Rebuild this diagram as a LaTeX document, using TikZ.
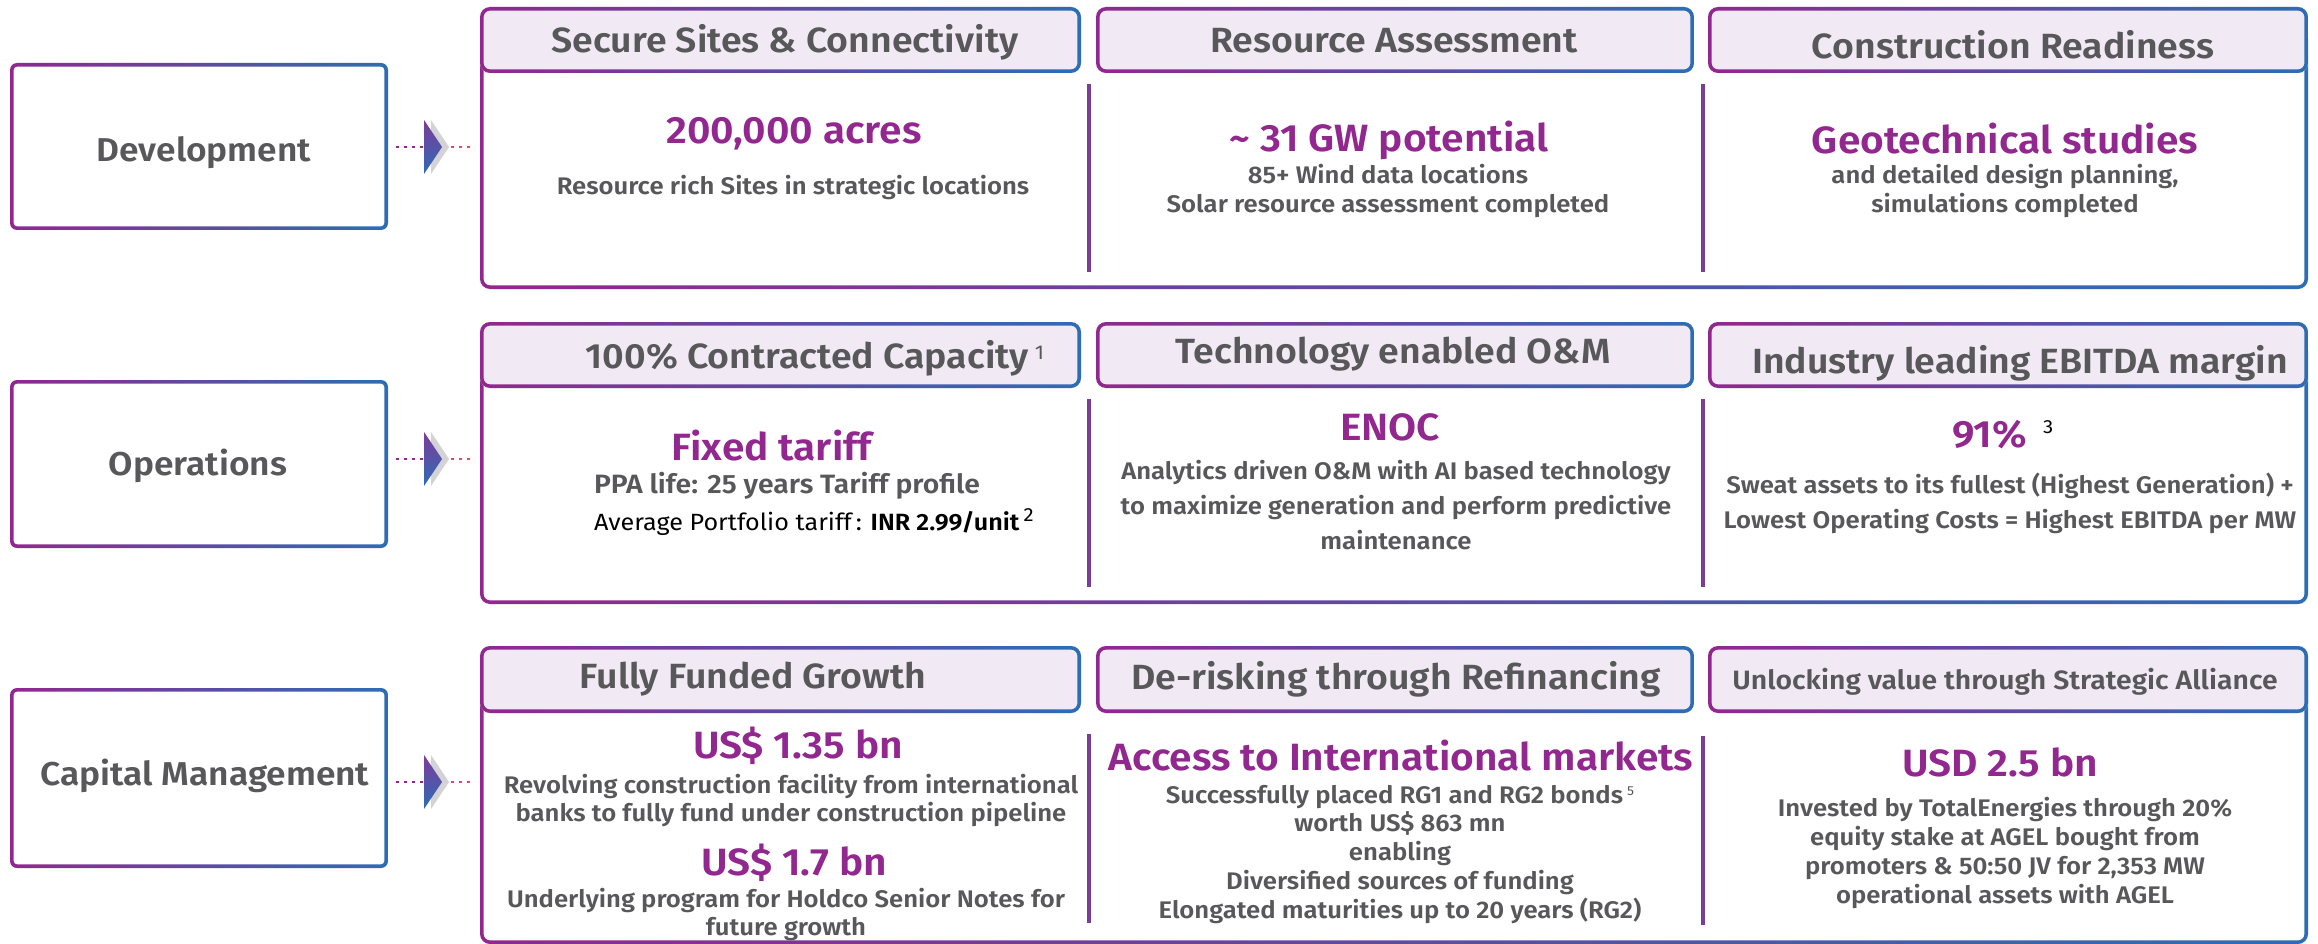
\documentclass[tikz,border=0pt]{standalone}
\usepackage{fontspec}
\setmainfont{Fira Sans}[BoldFont={Fira Sans SemiBold}, FakeStretch=1.07]
\definecolor{purp}{HTML}{92278F}
\definecolor{blu}{HTML}{2D6DB4}
\definecolor{txt}{HTML}{58585A}
\definecolor{hfill}{HTML}{F1EAF5}
\definecolor{dotr}{HTML}{E5485E}
\definecolor{divc}{HTML}{7A3E98}
\definecolor{gry}{HTML}{D3D3D6}
\definecolor{tritop}{HTML}{7E3A9C}
\newcommand\gframe[6]{\shade[left color=purp,right color=blu,even odd rule] (#1,#2) [rounded corners=#5] rectangle (#3,#4) ({#1+3.6},{#2+3.6}) [rounded corners=#6] rectangle ({#3-3.6},{#4-3.6});}
\newcommand\gbox[7]{\fill[#7,rounded corners=#5] (#1,#2) rectangle (#3,#4); \gframe{#1}{#2}{#3}{#4}{#5}{#6}}
\newcommand\flowmark[3]{%
  \coordinate (ta#3) at (423,#2);
  \coordinate (tb#3) at (451,#2);
  \coordinate (ct#3) at (482,#2);
  \draw[dots,purp,shorten <=8pt] (#1.east |- ta#3) -- (ta#3);
  \fill[gry] (431,#2-27) -- (449,#2) -- (431,#2+27) -- cycle;
  \shade[top color=tritop,bottom color=blu] (424,#2-27) -- (442,#2) -- (424,#2+27) -- cycle;
  \draw[dots,dotr,shorten >=8pt] (tb#3) -- (ct#3);
}
\tikzset{
  every node/.style={inner sep=0pt, outer sep=0pt},
  lbl/.style={anchor=base, text=txt, font=\fontsize{33}{40}\selectfont\bfseries},
  hdr/.style={anchor=base, text=txt, font=\fontsize{35}{40}\selectfont\bfseries},
  hdrs/.style={anchor=base, text=txt, font=\fontsize{26.5}{30}\selectfont\bfseries},
  big/.style={anchor=base, text=purp, font=\fontsize{38}{44}\selectfont\bfseries},
  body/.style={anchor=base, text=txt, align=center, font=\fontsize{24}{28.7}\selectfont\bfseries},
  bodyw/.style={anchor=base, text=txt, align=center, font=\fontsize{24}{35}\selectfont\bfseries},
  dots/.style={line width=2.6pt, dash pattern=on 2.6pt off 5.4pt},
  boxnode/.style={minimum width=378pt, inner sep=0pt},
}
\begin{document}
\begin{tikzpicture}[x=1pt,y=-1pt]
\useasboundingbox (0,0) rectangle (2318,944);
\fill[white] (0,0) rectangle (2318,944);

% left boxes
\gbox{10}{63}{388}{230}{7pt}{3.4pt}{white}
\gbox{10}{380}{388}{548}{7pt}{3.4pt}{white}
\gbox{10}{688}{388}{868}{7pt}{3.4pt}{white}
\node[boxnode, minimum height=167pt] (devbox) at (199,146.5) {};
\node[boxnode, minimum height=168pt] (opsbox) at (199,464) {};
\node[boxnode, minimum height=180pt] (capbox) at (199,778) {};
\node[lbl] (devlbl) at (204,162) {Development};
\node[lbl] (opslbl) at (198,475) {Operations};
\node[lbl] (caplbl) at (205,785) {Capital Management};

% flow marks
\flowmark{devbox}{147}{1}
\flowmark{opsbox}{459}{2}
\flowmark{capbox}{782}{3}

% containers
\begin{scope}\clip (470,40) rectangle (2318,300); \gframe{480}{0}{2308}{289}{10pt}{6.4pt} \end{scope}
\begin{scope}\clip (470,350) rectangle (2318,620); \gframe{480}{300}{2308}{604}{10pt}{6.4pt} \end{scope}
\begin{scope}\clip (470,680) rectangle (2318,944); \gframe{480}{620}{2308}{944}{10pt}{6.4pt} \end{scope}

% headers
\gbox{480}{7}{1081}{73}{10pt}{6.4pt}{hfill}
\gbox{1096}{7}{1694}{73}{10pt}{6.4pt}{hfill}
\gbox{1708}{7}{2308}{73}{10pt}{6.4pt}{hfill}
\gbox{480}{322}{1081}{388}{10pt}{6.4pt}{hfill}
\gbox{1096}{322}{1694}{388}{10pt}{6.4pt}{hfill}
\gbox{1708}{322}{2308}{388}{10pt}{6.4pt}{hfill}
\gbox{480}{646}{1081}{713}{10pt}{6.4pt}{hfill}
\gbox{1096}{646}{1694}{713}{10pt}{6.4pt}{hfill}
\gbox{1708}{646}{2308}{713}{10pt}{6.4pt}{hfill}

% dividers
\fill[divc] (1086.5,84) rectangle (1090.5,272);
\fill[divc] (1700.5,84) rectangle (1704.5,272);
\fill[divc] (1086.5,399) rectangle (1090.5,587);
\fill[divc] (1700.5,399) rectangle (1704.5,587);
\fill[divc] (1086.5,734) rectangle (1090.5,923);
\fill[divc] (1700.5,736) rectangle (1704.5,925);

% header titles
\node[hdr] (t11) at (785,53) {Secure Sites \& Connectivity};
\node[hdr] (t12) at (1394,53) {Resource Assessment};
\node[hdr] (t13) at (2013,59) {Construction Readiness};
\node[hdr] (t21) at (815,368) {100\% Contracted Capacity\,\raisebox{9pt}{\mdseries\fontsize{20}{20}\selectfont 1}};
\node[hdr] (t22) at (1393,363) {Technology enabled O\&M};
\node[hdr] (t23) at (2020,373) {Industry leading EBITDA margin};
\node[hdr] (t31) at (753,688) {Fully Funded Growth};
\node[hdr] (t32) at (1396,689) {De-risking through Refinancing};
\node[hdrs] (t33) at (2005,689) {Unlocking value through Strategic Alliance};

% row 1 content
\node[big] (b11) at (794,144) {200,000 acres};
\node[body] (d11) at (793,195) {Resource rich Sites in strategic locations};
\node[big] (b12) at (1389,152) {\textasciitilde{} 31 GW potential};
\node[body] (d12) at (1388,212) {85+ Wind data locations\\Solar resource assessment completed};
\node[big] (b13) at (2005,154) {Geotechnical studies};
\node[body] (d13) at (2005,212) {and detailed design planning,\\simulations completed};

% row 2 content
\node[big] (b21) at (772,460) {Fixed tariff};
\node[body, anchor=base west, font=\fontsize{26.5}{30}\selectfont\bfseries] (d21) at (594,493) {PPA life: 25 years Tariff profile};
\node[anchor=base west, text=black, font=\fontsize{23.5}{28}\selectfont] (e21) at (594,530) {Average Portfolio tariff\,: \textbf{INR 2.99/unit}\,\raisebox{9pt}{\fontsize{19}{19}\selectfont 2}};
\node[big] (b22) at (1390,440) {ENOC};
\node[bodyw] (d22) at (1396,549) {Analytics driven O\&M with AI based technology\\to maximize generation and perform predictive\\maintenance};
\node[big, anchor=base west] (b23) at (1952,447) {91\%};
\node[anchor=base west, text=black, font=\fontsize{19}{19}\selectfont] (s23) at (2043,433) {3};
\node[bodyw] (d23) at (2010,528) {Sweat assets to its fullest (Highest Generation) +\\Lowest Operating Costs = Highest EBITDA per MW};

% row 3 content
\node[big] (b31) at (798,758) {US\$ 1.35 bn};
\node[body, font=\fontsize{24}{28}\selectfont\bfseries] (d31) at (791,821) {Revolving construction facility from international\\banks to fully fund under construction pipeline};
\node[big] (c31) at (794,875) {US\$ 1.7 bn};
\node[body, font=\fontsize{24}{28}\selectfont\bfseries] (e31) at (786,935) {Underlying program for Holdco Senior Notes for\\future growth};
\node[big] (b32) at (1401,770) {Access to International markets};
\node[body] (d32) at (1400,918) {Successfully placed RG1 and RG2 bonds\,\raisebox{8pt}{\mdseries\fontsize{13}{13}\selectfont 5}\\worth US\$ 863 mn\\enabling\\Diversified sources of funding\\Elongated maturities up to 20 years (RG2)};
\node[big] (b33) at (2000,776) {USD 2.5 bn};
\node[body] (d33) at (2005,903) {Invested by TotalEnergies through 20\%\\equity stake at AGEL bought from\\promoters \& 50:50 JV for 2,353 MW\\operational assets with AGEL};
\end{tikzpicture}
\end{document}
